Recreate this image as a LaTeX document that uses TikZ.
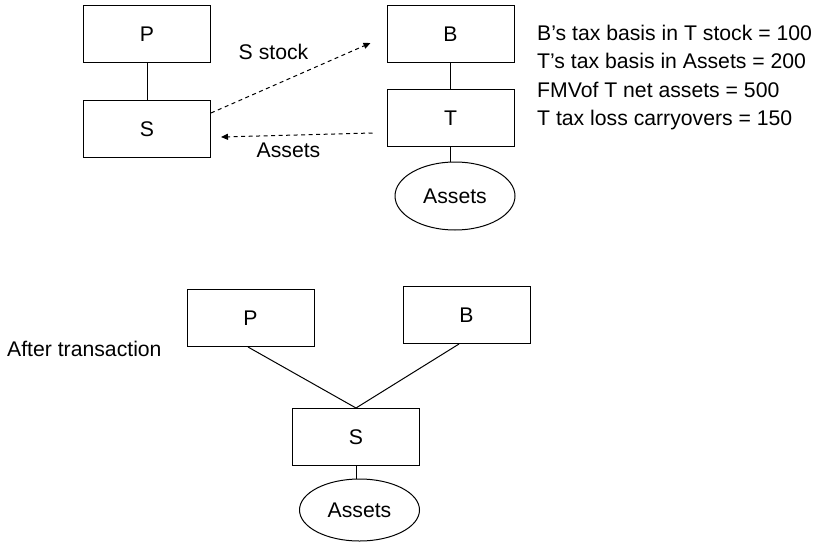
\documentclass[tikz,border=0pt]{standalone}
\usepackage{fontspec}
\setmainfont{Liberation Sans}
\usetikzlibrary{arrows.meta,shapes.geometric,calc}

\begin{document}
\begin{tikzpicture}[x=1pt,y=-1pt,
  font=\fontsize{21.2}{25}\selectfont,
  entity/.style={draw, line width=1pt, minimum width=127pt, minimum height=57pt, inner sep=0pt},
  holding/.style={draw, ellipse, line width=1pt, minimum width=120pt, minimum height=68pt, inner sep=0pt},
  link/.style={line width=1pt},
  transfer/.style={line width=1pt, dash pattern=on 4pt off 3.5pt, -{Triangle[length=7pt,width=6pt]}},
  note/.style={anchor=base west, inner sep=0pt}]

  \path[use as bounding box] (0,0) rectangle (816,543);

  % before the transaction
  \node[entity] (P1) at (147,34.5) {P};
  \node[entity] (S1) at (147,129) {S};
  \node[entity] (B1) at (450.5,34.5) {B};
  \node[entity] (T1) at (450.5,118) {T};
  \node[holding] (A1) at (455,196) {Assets};

  \draw[link] (P1) -- (S1);
  \draw[link] (B1) -- (T1);
  \draw[link] (T1.south) -- (T1.south |- A1.north);

  % transfers (shifts are in page units, positive = up)
  \draw[transfer] ([yshift=16pt]S1.east) -- ([xshift=-16pt,yshift=-8.5pt]B1.west);
  \draw[transfer] ([xshift=-14pt,yshift=-15pt]T1.west) -- ([xshift=10pt,yshift=-8pt]S1.east);

  \node (lblstock) at (273.5,51.5) {S stock};
  \node (lblassets) at (288.5,150.5) {Assets};

  \node[note] (info1) at (537,41) {B’s tax basis in T stock = 100};
  \node[note] (info2) at (537,69) {T’s tax basis in Assets = 200};
  \node[note] (info3) at (537,97) {FMVof T net assets = 500};
  \node[note] (info4) at (537,125) {T tax loss carryovers = 150};

  % after the transaction
  \node[note] (after) at (7,356) {After transaction};

  \node[entity] (P2) at (250.5,318) {P};
  \node[entity] (B2) at (466.5,315) {B};
  \node[entity] (S2) at (356,437) {S};
  \node[holding, minimum height=62pt] (A2) at (359.5,510) {Assets};

  \draw[link] ([xshift=-2.5pt]P2.south) -- (S2.north);
  \draw[link] ([xshift=-7.5pt]B2.south) -- (S2.north);
  \draw[link] (S2.south) -- (S2.south |- A2.north);
\end{tikzpicture}
\end{document}
